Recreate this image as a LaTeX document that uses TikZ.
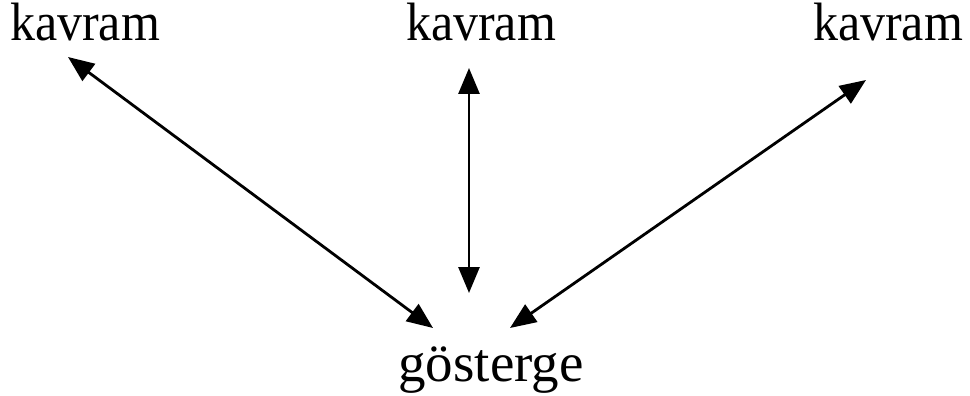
\documentclass[tikz,border=0pt]{standalone}
\usepackage{fontspec}
\setmainfont{Liberation Serif}
\usetikzlibrary{arrows.meta}
\begin{document}
\begin{tikzpicture}[x=1pt,y=-1pt,
  lbl/.style={inner sep=0pt, anchor=base, font=\fontsize{50}{50}\selectfont},
  klbl/.style={lbl, yscale=1.08},
  conn/.style={line width=2.8pt, {Triangle[length=26pt,width=21pt]}-{Triangle[length=26pt,width=21pt]}}]
\useasboundingbox (0,0) rectangle (970,396);
\node[klbl] (k1) at (85,41) {kavram};
\node[klbl] (k2) at (481,41) {kavram};
\node[klbl] (k3) at (888,41) {kavram};
\node[lbl, font=\fontsize{55}{55}\selectfont] (g) at (491,381) {gösterge};
\coordinate (a1) at (68,57);
\coordinate (b1) at (433,328);
\coordinate (a2) at (469,68);
\coordinate (b2) at (469,293);
\coordinate (a3) at (866,80);
\coordinate (b3) at (510,328);
\draw[conn] (a1) -- (b1);
\draw[conn] (a2) -- (b2);
\draw[conn] (a3) -- (b3);
\end{tikzpicture}
\end{document}
